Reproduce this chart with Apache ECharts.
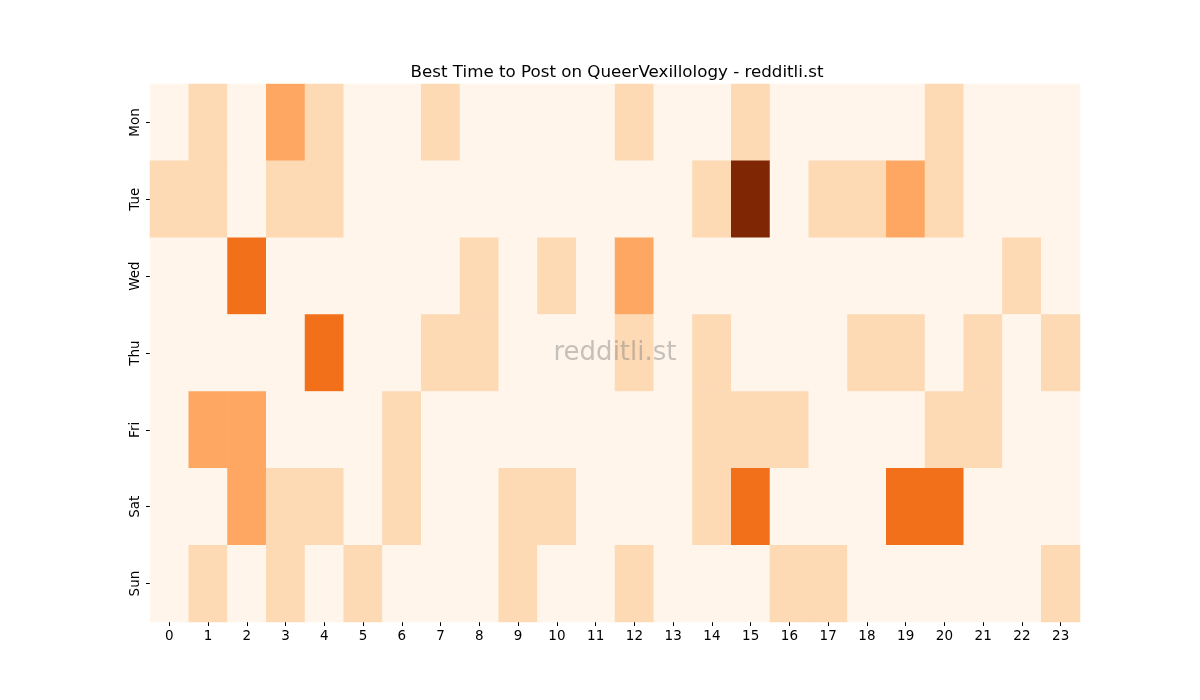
<!DOCTYPE html>
<html>
<head>
<meta charset="utf-8">
<script src="https://cdn.jsdelivr.net/npm/echarts@6/dist/echarts.min.js"></script>
<style>
  html, body { margin: 0; padding: 0; background: #fff; }
  #main { width: 1200px; height: 700px; }
</style>
</head>
<body>
<div id="main"></div>
<script>
// 横轴：小时，纵轴：星期
var hours = ['0','1','2','3','4','5','6','7','8','9','10','11','12','13','14','15','16','17','18','19','20','21','22','23'];
var days = ['Mon', 'Tue', 'Wed', 'Thu', 'Fri', 'Sat', 'Sun'];

// 每天每小时的发帖得分
var mon = [0,1,0,2,1,0,0,1,0,0,0,0,1,0,0,1,0,0,0,0,1,0,0,0];
var tue = [1,1,0,1,1,0,0,0,0,0,0,0,0,0,1,5,0,1,1,2,1,0,0,0];
var wed = [0,0,3,0,0,0,0,0,1,0,1,0,2,0,0,0,0,0,0,0,0,0,1,0];
var thu = [0,0,0,0,3,0,0,1,1,0,0,0,1,0,1,0,0,0,1,1,0,1,0,1];
var fri = [0,2,2,0,0,0,1,0,0,0,0,0,0,0,1,1,1,0,0,0,1,1,0,0];
var sat = [0,0,2,1,1,0,1,0,0,1,1,0,0,0,1,3,0,0,0,3,3,0,0,0];
var sun = [0,1,0,1,0,1,0,0,0,1,0,0,1,0,0,0,1,1,0,0,0,0,0,1];

var rows = [mon, tue, wed, thu, fri, sat, sun];
var data = [];
rows.forEach(function (row, d) {
    row.forEach(function (v, h) {
        data.push([h, d, v]);
    });
});

var font = 'DejaVu Sans';
var myChart = echarts.init(document.getElementById('main'));
myChart.setOption({
    animation: false,
    title: {
        text: 'Best Time to Post on QueerVexillology - redditli.st',
        left: 612,
        textAlign: 'center',
        top: 59,
        textStyle: { fontFamily: font, fontSize: 16.7, fontWeight: 'normal', color: '#000' }
    },
    grid: { left: 150, right: 120, top: 84, bottom: 78 },
    xAxis: {
        type: 'category',
        data: hours,
        axisLine: { show: false },
        axisTick: { show: true, alignWithLabel: true, length: 4, lineStyle: { color: '#000' } },
        axisLabel: { fontFamily: font, fontSize: 13.5, color: '#000', margin: 7 },
        splitArea: { show: false }
    },
    yAxis: {
        type: 'category',
        data: days,
        inverse: true,
        axisLine: { show: false },
        axisTick: { show: true, alignWithLabel: true, length: 4, lineStyle: { color: '#000' } },
        axisLabel: { fontFamily: font, fontSize: 13.5, color: '#000', rotate: 90, margin: 8 }
    },
    visualMap: {
        show: false,
        type: 'piecewise',
        dimension: 2,
        pieces: [
            { value: 0, color: '#fff5eb' },
            { value: 1, color: '#fdd9b4' },
            { value: 2, color: '#fda762' },
            { value: 3, color: '#f3701b' },
            { value: 4, color: '#c44103' },
            { value: 5, color: '#7f2704' }
        ]
    },
    graphic: [{
        type: 'text',
        x: 615,
        y: 353,
        style: {
            text: 'redditli.st',
            textAlign: 'center',
            textVerticalAlign: 'middle',
            fontFamily: font,
            fontSize: 26,
            fill: 'rgba(128,128,128,0.45)'
        },
        z: 100
    }],
    series: [{
        type: 'heatmap',
        data: data,
        itemStyle: { borderWidth: 0 },
        emphasis: { disabled: true }
    }]
});
</script>
</body>
</html>
